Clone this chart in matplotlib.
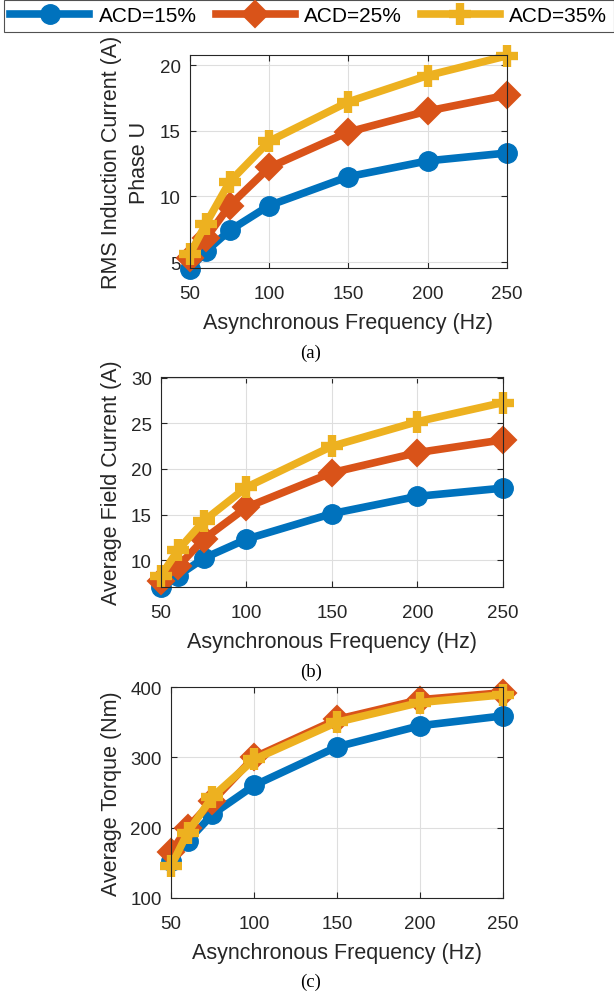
import matplotlib
matplotlib.use('Agg')
import matplotlib.pyplot as plt

# Data
freq = [50, 60, 75, 100, 150, 200, 250]
series_names = ['ACD=15%', 'ACD=25%', 'ACD=35%']

rms_15 = [4.5, 5.8, 7.4, 9.3, 11.5, 12.7, 13.3]
rms_25 = [5.3, 6.8, 9.3, 12.2, 14.9, 16.5, 17.7]
rms_35 = [5.6, 7.9, 11.1, 14.2, 17.2, 19.2, 20.7]

field_15 = [7.0, 8.3, 10.2, 12.3, 15.1, 17.0, 17.9]
field_25 = [7.7, 9.3, 12.3, 15.8, 19.6, 21.8, 23.2]
field_35 = [8.3, 11.1, 14.3, 18.0, 22.5, 25.2, 27.3]

torque_15 = [152, 181, 219, 260, 315, 345, 359]
torque_25 = [165, 200, 238, 300, 354, 382, 392]
torque_35 = [145, 193, 244, 297, 350, 378, 389]

x_ticks = [50, 100, 150, 200, 250]

# MATLAB default colours
colors = ['#0072BD', '#D95319', '#EDB120']
dark = '#262626'

plt.rcParams['font.family'] = ['Liberation Sans', 'DejaVu Sans']


def style_axes(ax, yticks, ylim):
    """Apply MATLAB-like look to one panel."""
    ax.set_xlim(50, 250)
    ax.set_ylim(*ylim)
    ax.set_xticks(x_ticks)
    ax.set_yticks(yticks)
    ax.grid(True, color='#dedede', linewidth=0.8)
    ax.set_axisbelow(True)
    ax.tick_params(direction='in', top=True, right=True, length=4,
                   width=0.8, colors=dark, labelsize=13.5)
    ax.tick_params(axis='x', pad=12)
    ax.tick_params(axis='y', pad=6.5)
    for sp in ax.spines.values():
        sp.set_color(dark)
        sp.set_linewidth(0.8)
    ax.set_xlabel('Asynchronous Frequency (Hz)', fontsize=15.5, color=dark,
                  labelpad=7.5)


def plot_series(ax, series):
    """Draw the three ACD curves."""
    markers = [('o', 14, 1.0), ('D', 13, 1.5), ('+', 16, 6)]
    lines = []
    for vals, c, (m, ms, mew), name in zip(series, colors, markers, series_names):
        ln, = ax.plot(freq, vals, color=c, linewidth=5.5, marker=m,
                      markersize=ms, markeredgewidth=mew,
                      markerfacecolor=c, markeredgecolor=c,
                      label=name, clip_on=False, solid_joinstyle='round')
        lines.append(ln)
    return lines


fig = plt.figure(figsize=(6.14, 9.95), dpi=100)

# Panel (a)
ax1 = fig.add_axes([0.3094, 0.7296, 0.5163, 0.2141])
lines = plot_series(ax1, [rms_15, rms_25, rms_35])
style_axes(ax1, [5, 10, 15, 20], (4.54, 20.76))
ax1.set_ylabel('RMS Induction Current (A)\nPhase U', fontsize=15.5,
               color=dark, linespacing=1.45)
ax1.yaxis.set_label_coords(-0.125, 0.5)

# Panel (b)
ax2 = fig.add_axes([0.2622, 0.4090, 0.5570, 0.2111])
plot_series(ax2, [field_15, field_25, field_35])
style_axes(ax2, [10, 15, 20, 25, 30], (7.04, 30.1))
ax2.set_ylabel('Average Field Current (A)', fontsize=15.5, color=dark)
ax2.yaxis.set_label_coords(-0.115, 0.5)

# Panel (c)
ax3 = fig.add_axes([0.2785, 0.0965, 0.5407, 0.2120])
plot_series(ax3, [torque_15, torque_25, torque_35])
style_axes(ax3, [100, 200, 300, 400], (100, 400))
ax3.set_ylabel('Average Torque (Nm)', fontsize=15.5, color=dark)
ax3.yaxis.set_label_coords(-0.148, 0.5)

# Captions
for txt, y in [('(a)', 353), ('(b)', 672), ('(c)', 982)]:
    fig.text(311 / 614, 1 - y / 995, txt, ha='center', va='center',
             fontsize=13.5, family='Liberation Serif', color='black')

# Shared legend across the top
leg = fig.legend(lines, series_names, loc='upper left',
                 bbox_to_anchor=(4 / 614, 1 - 1 / 995), ncol=3,
                 fontsize=15, handlelength=3.8, handletextpad=0.45,
                 columnspacing=0.9, borderpad=0.3, borderaxespad=0,
                 fancybox=False, numpoints=1, frameon=True)
leg.get_frame().set_edgecolor(dark)
leg.get_frame().set_linewidth(0.8)
for t in leg.get_texts():
    t.set_color('black')

fig.savefig('out.png', dpi=100)
